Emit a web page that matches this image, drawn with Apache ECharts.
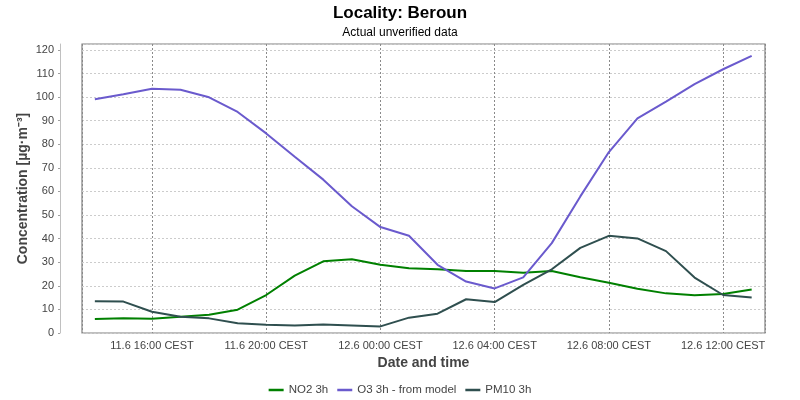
<!DOCTYPE html>
<html>
<head>
<meta charset="utf-8">
<script src="https://cdn.jsdelivr.net/npm/echarts@6/dist/echarts.min.js"></script>
<style>html,body{margin:0;padding:0;background:#fff}#c{width:800px;height:400px}</style>
</head>
<body>
<div id="c"></div>
<script>
const times = ['11.6 14:00','11.6 15:00','11.6 16:00','11.6 17:00','11.6 18:00','11.6 19:00','11.6 20:00','11.6 21:00','11.6 22:00','11.6 23:00',
  '12.6 00:00','12.6 01:00','12.6 02:00','12.6 03:00','12.6 04:00','12.6 05:00','12.6 06:00','12.6 07:00','12.6 08:00','12.6 09:00',
  '12.6 10:00','12.6 11:00','12.6 12:00','12.6 13:00'];
const no2 = [5.9,6.3,6.0,6.9,7.7,9.9,16.1,24.3,30.4,31.3,28.9,27.4,27.0,26.3,26.3,25.5,26.3,23.6,21.3,18.8,16.8,16.0,16.5,18.4];
const o3 = [99.1,101.2,103.5,103.1,99.9,93.7,84.6,74.7,65.0,53.7,44.9,41.2,28.9,21.8,18.9,23.6,38.1,57.9,76.7,91.0,98.1,105.5,111.8,117.5];
const pm10 = [13.5,13.3,9.0,6.9,6.2,4.1,3.5,3.2,3.6,3.2,2.8,6.5,8.2,14.3,13.1,20.4,27.0,36.1,41.2,40.1,34.7,23.5,16.1,15.0];
const seriesNames = ['NO2 3h','O3 3h - from model','PM10 3h'];
const colors = ['#008000','#6a5acd','#2f4f4f'];

function parseT(s){
  const [dm, hm] = s.split(' ');
  const [d, m] = dm.split('.').map(Number);
  const [h, mi] = hm.split(':').map(Number);
  return Date.UTC(2024, m-1, d, h, mi);
}
const ts = times.map(parseT);
const pad = n => (n<10?'0':'')+n;
const FONT = 'Liberation Sans';

const chart = echarts.init(document.getElementById('c'));
chart.setOption({
  useUTC: true,
  animation: false,
  textStyle: {fontFamily: FONT},
  title: {
    text: 'Locality: Beroun',
    subtext: 'Actual unverified data',
    left: 'center', top: 0, itemGap: 5,
    textStyle: {fontSize: 17, fontWeight: 'bold', color: '#000', fontFamily: FONT},
    subtextStyle: {fontSize: 12, color: '#000', fontFamily: FONT}
  },
  legend: {
    left: 'center', top: 379,
    icon: 'rect', itemWidth: 15, itemHeight: 2.5, itemGap: 9,
    textStyle: {fontSize: 11.5, color: '#444', fontFamily: FONT},
    data: seriesNames
  },
  grid: {left: 82, right: 35, top: 44, bottom: 67, show: true, borderColor: '#808080', borderWidth: 1.2, containLabel: false},
  xAxis: {
    type: 'time',
    min: Date.UTC(2024,5,11,13,33), max: Date.UTC(2024,5,12,13,28),
    minInterval: 4*3600*1000, maxInterval: 4*3600*1000,
    name: 'Date and time', nameLocation: 'middle', nameGap: 23, nameMoveOverlap: false,
    nameTextStyle: {fontSize: 14, fontWeight: 'bold', color: '#444', fontFamily: FONT},
    axisLine: {show: false},
    axisTick: {show: false},
    axisLabel: {
      fontSize: 11, color: '#444', margin: 7, hideOverlap: false,
      formatter: function(v){ const d = new Date(v); return d.getUTCDate()+'.'+(d.getUTCMonth()+1)+' '+pad(d.getUTCHours())+':'+pad(d.getUTCMinutes())+' CEST'; }
    },
    splitLine: {show: true, lineStyle: {color: '#8a8a8a', type: [2,2], width: 1}}
  },
  yAxis: {
    type: 'value', min: 0, max: 122.5, interval: 10, offset: 22,
    name: 'Concentration [µg·m⁻³]', nameLocation: 'middle', nameGap: 30, nameMoveOverlap: false,
    nameTextStyle: {fontSize: 14, fontWeight: 'bold', color: '#444', fontFamily: FONT},
    axisLine: {show: true, lineStyle: {color: '#c0c0c0', width: 1}},
    axisTick: {show: true, length: 2, lineStyle: {color: '#a0a0a0'}},
    axisLabel: {fontSize: 11, color: '#444', margin: 6, showMaxLabel: false,
      formatter: v => (v % 10 === 0 ? String(v) : '')},
    splitLine: {show: true, lineStyle: {color: '#cccccc', type: [2,2], width: 1}}
  },
  series: [no2, o3, pm10].map((arr, i) => ({
    name: seriesNames[i], type: 'line', showSymbol: false, symbol: 'none',
    color: colors[i], lineStyle: {width: 2, color: colors[i]},
    data: arr.map((v, j) => [ts[j], v])
  }))
});
</script>
</body>
</html>
